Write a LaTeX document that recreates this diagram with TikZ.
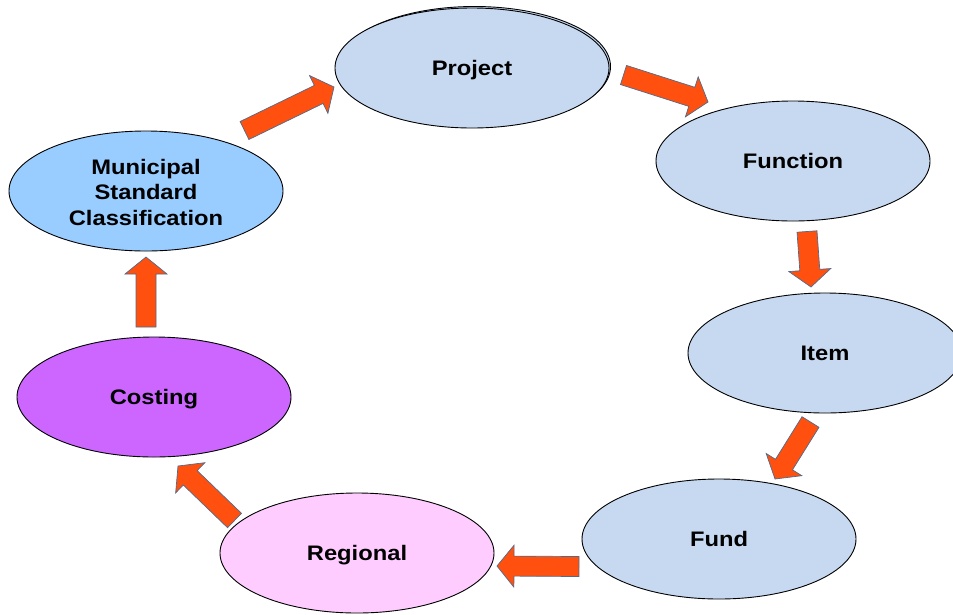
\documentclass[tikz,border=0pt]{standalone}
\usepackage{fontspec}
\newfontfamily\labfont[FakeStretch=1.13]{Liberation Sans}
\usetikzlibrary{calc,shapes.geometric}
\definecolor{steel}{HTML}{C6D9F1}
\definecolor{skyb}{HTML}{99CCFF}
\definecolor{violetf}{HTML}{CC66FF}
\definecolor{pinkf}{HTML}{FFCCFF}
\definecolor{arrfill}{HTML}{FF5010}
\definecolor{arredge}{HTML}{4F6B8C}
\newcommand\blkarrow[2]{%
  \coordinate (hb) at ($(#2)!17pt!(#1)$);
  \draw[blk] ($(#1)!10pt!90:(#2)$) -- ($(hb)!10pt!90:(#2)$) -- ($(hb)!21pt!90:(#2)$) -- (#2)
    -- ($(hb)!21pt!-90:(#2)$) -- ($(hb)!10pt!-90:(#2)$) -- ($(#1)!10pt!-90:(#2)$) -- cycle;}
\begin{document}
\begin{tikzpicture}[x=1pt,y=-1pt,
  ell/.style={ellipse, draw=black, line width=0.9pt, inner sep=0pt,
    minimum width=274pt, minimum height=120pt},
  lab/.style={font=\labfont\bfseries\fontsize{21}{25.5}\selectfont, align=center,
    text=black, text height=15pt, text depth=0pt},
  mlab/.style={font=\labfont\bfseries\fontsize{21}{25.5}\selectfont, align=center, text=black},
  blk/.style={fill=arrfill, draw=arredge, line width=0.7pt, line join=miter}]
\useasboundingbox (0,0) rectangle (953,614);
% shadow outline of Project
\draw[line width=0.9pt, fill=steel] (474.5,66.5) ellipse [x radius=136pt, y radius=60pt];
\node[ell, fill=steel, lab] (project) at (472,68) {Project};
\node[ell, fill=steel, lab] (function) at (793,161) {Function};
\node[ell, fill=steel, lab] (item) at (825,353) {Item};
\node[ell, fill=steel, lab] (fund) at (719,539) {Fund};
\node[ell, fill=pinkf, lab] (regional) at (357,553) {Regional};
\node[ell, fill=violetf, lab] (costing) at (154,397) {Costing};
\node[ell, fill=skyb] (msc) at (146,191) {};
\node[mlab] (msclab) at (146,192) {Municipal\\Standard\\Classification};
% block arrows
\coordinate (t1) at (244.5,130.5); \coordinate (p1) at (334,87);
\coordinate (t2) at (623.5,75);    \coordinate (p2) at (708,102);
\coordinate (t3) at (807,231.5);   \coordinate (p3) at (811,287);
\coordinate (t4) at (810.5,422);   \coordinate (p4) at (775,479);
\coordinate (t5) at (579,566.5);   \coordinate (p5) at (497,566);
\coordinate (t6) at (234.5,520.5); \coordinate (p6) at (178,466);
\coordinate (t7) at (146,327);     \coordinate (p7) at (146,257);
\blkarrow{t1}{p1}
\blkarrow{t2}{p2}
\blkarrow{t3}{p3}
\blkarrow{t4}{p4}
\blkarrow{t5}{p5}
\blkarrow{t6}{p6}
\blkarrow{t7}{p7}
\end{tikzpicture}
\end{document}
